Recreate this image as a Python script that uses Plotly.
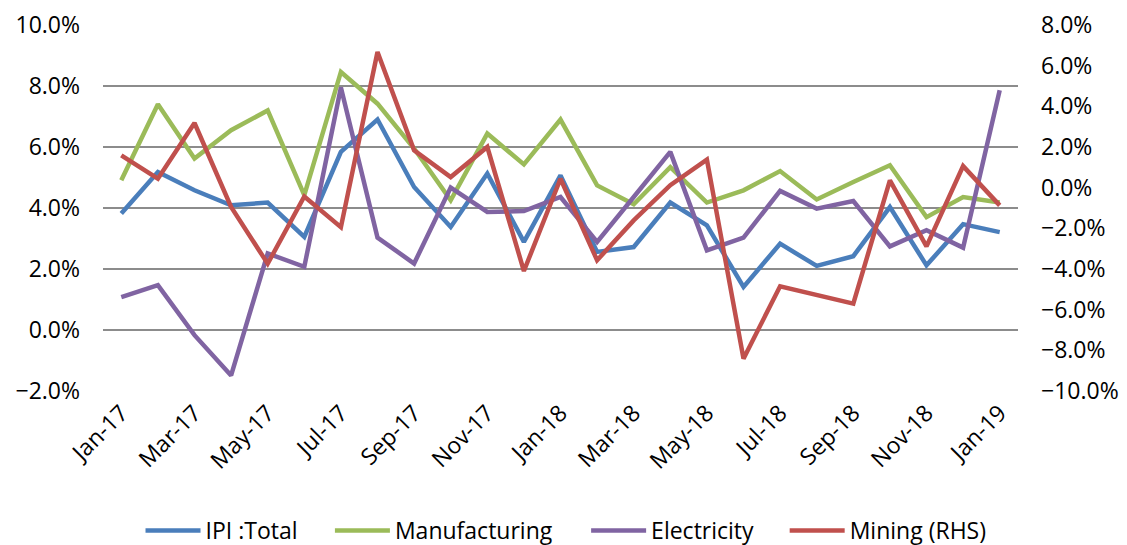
import plotly.graph_objects as go

months = ["Jan-17","Feb-17","Mar-17","Apr-17","May-17","Jun-17","Jul-17","Aug-17","Sep-17","Oct-17","Nov-17","Dec-17",
          "Jan-18","Feb-18","Mar-18","Apr-18","May-18","Jun-18","Jul-18","Aug-18","Sep-18","Oct-18","Nov-18","Dec-18","Jan-19"]
tick_labels = months[::2]

ipi_total = [3.82, 5.18, 4.58, 4.09, 4.18, 3.05, 5.84, 6.90, 4.69, 3.38, 5.13, 2.89,
             5.07, 2.56, 2.72, 4.18, 3.43, 1.41, 2.83, 2.10, 2.42, 4.03, 2.12, 3.47, 3.21]
manufacturing = [4.91, 7.40, 5.62, 6.55, 7.20, 4.42, 8.46, 7.42, 5.95, 4.25, 6.44, 5.43,
                 6.90, 4.74, 4.12, 5.34, 4.18, 4.58, 5.21, 4.28, 4.85, 5.40, 3.70, 4.36, 4.18]
electricity = [1.08, 1.47, -0.17, -1.49, 2.51, 2.07, 7.95, 3.03, 2.18, 4.67, 3.87, 3.90,
               4.36, 2.89, 4.36, 5.84, 2.61, 3.03, 4.56, 3.98, 4.23, 2.74, 3.27, 2.70, 7.86]
mining_rhs = [1.59, 0.44, 3.18, -0.95, -3.74, -0.43, -1.94, 6.67, 1.84, 0.52, 2.00, -4.10,
              0.44, -3.57, -1.61, 0.12, 1.38, -8.41, -4.85, -5.25, -5.70, 0.36, -2.89, 1.06, -0.87]

FONT = "Open Sans"
FS = 23
tf = dict(family=FONT, size=FS, color="black")

fig = go.Figure()
series = [
    ("IPI :Total", ipi_total, "#4A7EBB", "y", "legend", 0.041),
    ("Manufacturing", manufacturing, "#9BBB59", "y", "legend2", 0.248),
    ("Electricity", electricity, "#8064A2", "y", "legend3", 0.528),
    ("Mining (RHS)", mining_rhs, "#C0504D", "y2", "legend4", 0.745),
]
legends = {}
for name, vals, col, ax, lg, lx in series:
    fig.add_trace(go.Scatter(x=months, y=[v / 100 for v in vals], name=name, mode="lines",
                             line=dict(color=col, width=4.5), yaxis=ax, legend=lg))
    legends[lg] = dict(orientation="h", x=lx, xanchor="left", y=-0.381, yanchor="middle",
                       font=tf, itemwidth=55, bgcolor="rgba(0,0,0,0)")

fig.update_layout(
    width=1127, height=545,
    margin=dict(l=103, r=109, t=25, b=154, autoexpand=False),
    paper_bgcolor="white", plot_bgcolor="white",
    font=tf,
    showlegend=True,
    **legends,
    xaxis=dict(type="category", range=[-0.5, 24.5], tickmode="array", tickvals=tick_labels,
               ticktext=tick_labels, tickangle=-45, showgrid=False, showline=False,
               ticks="", automargin=False, tickfont=tf, ticklabelstandoff=3),
    yaxis=dict(range=[-0.02, 0.10], dtick=0.02, tickformat=".1%", showgrid=True,
               gridcolor="#8C8C8C", gridwidth=1.5, zeroline=False, showline=False,
               ticks="", automargin=False, tickfont=tf, ticklabelstandoff=22),
    yaxis2=dict(range=[-0.10, 0.08], dtick=0.02, tickformat=".1%", overlaying="y", side="right",
                showgrid=False, zeroline=False, showline=False, ticks="", automargin=False,
                tickfont=tf, ticklabelstandoff=22),
)
fig.write_html("out.html")
